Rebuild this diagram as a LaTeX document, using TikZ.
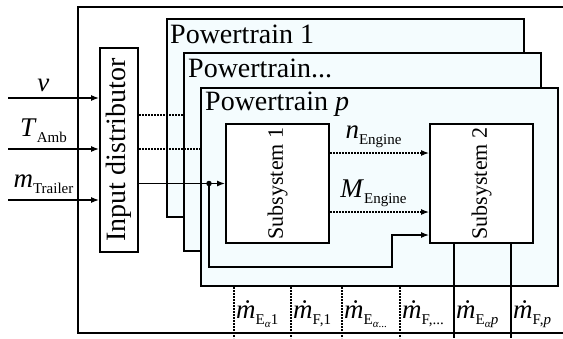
\documentclass[tikz,border=0pt]{standalone}
\usepackage{fontspec}
\setmainfont{Liberation Serif}
\usetikzlibrary{arrows.meta, positioning, calc}
\definecolor{cFillPT}{RGB}{244,252,254}
\newcommand{\lsub}[1]{\raisebox{-6pt}{\fontsize{15}{15}\selectfont #1}}
\newcommand{\lsubsub}[1]{\raisebox{-3pt}{\fontsize{11}{11}\selectfont #1}}
\tikzset{
  frame/.style={draw=black, line width=2pt},
  %% powertrain boxes
  ptbox/.style={rectangle, draw=black, fill=cFillPT, line width=2pt, anchor=north west,
                minimum width=357pt, minimum height=198pt, inner sep=0pt},
  ptlabel/.style={anchor=base west, inner sep=0pt, font=\fontsize{28}{28}\selectfont},
  %% subsystem boxes
  subbox/.style={rectangle, draw=black, fill=white, line width=2pt, anchor=north west,
                 minimum width=103pt, minimum height=119pt, inner sep=0pt},
  sublabel/.style={rotate=90, inner sep=0pt, font=\fontsize{22}{22}\selectfont},
  distbox/.style={rectangle, draw=black, fill=white, line width=2pt, anchor=north west,
                  minimum width=38pt, minimum height=204pt, inner sep=0pt},
  distlabel/.style={rotate=90, inner sep=0pt, font=\fontsize{28}{28}\selectfont},
  varlabel/.style={inner sep=0pt, font=\fontsize{27}{27}\selectfont},
  %% signals
  sigarrow/.style={-{Latex[length=8pt, width=6pt]}, line width=1.1pt},
  sigdotted/.style={sigarrow, dash pattern=on 1.6pt off 1.4pt},
  flowdotted/.style={line width=1.1pt, dash pattern=on 1.6pt off 1.4pt},
  sigline/.style={line width=1.1pt},
  tapdot/.style={circle, fill=black, inner sep=0pt, minimum size=5.5pt},
}

\begin{document}
\begin{tikzpicture}[x=1pt, y=-1pt]
\useasboundingbox (0,0) rectangle (563,338);

%% ============================================================
%%  OUTER FRAME (open to the right)
%% ============================================================
\draw[frame] (563,7) -- (78,7) -- (78,333) -- (563,333);

%% ============================================================
%%  POWERTRAIN STACK
%% ============================================================
\node[ptbox] (pt1) at (166,18) {};
\node[ptlabel] (pt1lbl) at ($(pt1.north west)+(4,25)$) {Powertrain 1};
\node[ptbox] (ptd) at (183,52) {};
\node[ptlabel] (ptdlbl) at ($(ptd.north west)+(5,25)$) {Powertrain...};
\node[ptbox] (ptp) at (200,87) {};
\node[ptlabel] (ptplbl) at ($(ptp.north west)+(5,23)$) {Powertrain \textit{p}};

%% ----- Subsystems -----
\node[subbox] (sub1) at (225,123) {};
\node[sublabel] (sub1lbl) at (sub1.center) {Subsystem 1};
\node[subbox] (sub2) at (429,123) {};
\node[sublabel] (sub2lbl) at (sub2.center) {Subsystem 2};

%% ============================================================
%%  INPUT DISTRIBUTOR
%% ============================================================
\node[distbox] (dist) at (99,47) {};
\node[distlabel] (distlbl) at (dist.center) {Input distributor};

%% ----- Inputs -----
\coordinate (inV) at (8,98);
\coordinate (inT) at (8,149);
\coordinate (inM) at (8,200);
\draw[sigarrow] (inV) -- (inV -| dist.west)
  node[varlabel, pos=0.39, above=6pt] (lblV) {\textit{v}};
\draw[sigarrow] (inT) -- (inT -| dist.west)
  node[varlabel, pos=0.39, above=6pt] (lblT) {\textit{T}\lsub{Amb}};
\draw[sigarrow] (inM) -- (inM -| dist.west)
  node[varlabel, pos=0.39, above=6pt] (lblM) {\textit{m}\lsub{Trailer}};

%% ----- Distributor outputs -----
\coordinate (lvlA) at (0,115);
\coordinate (lvlB) at (0,149);
\draw[flowdotted] (dist.east |- lvlA) -- (ptd.west |- lvlA);
\draw[flowdotted] (dist.east |- lvlB) -- (ptp.west |- lvlB);
\node[tapdot] (tap) at ($(sub1.west)+(-16,0)$) {};
\draw[sigarrow] (dist.east |- sub1.west) -- (sub1.west);

%% bypass to subsystem 2
\coordinate (fbk) at (392,267);
\draw[sigarrow] (tap.center) |- (fbk) |- ($(sub2.south west)+(0,-9)$);

%% ============================================================
%%  ENGINE SIGNALS
%% ============================================================
\draw[sigdotted] ($(sub1.north east)+(0,30)$) -- ($(sub2.north west)+(0,30)$)
  node[varlabel, midway, above=5pt, xshift=-6pt] (lblN) {\textit{n}\lsub{Engine}};
\draw[sigdotted] ($(sub1.north east)+(0,89)$) -- ($(sub2.north west)+(0,89)$)
  node[varlabel, midway, above=5pt, xshift=-6pt] (lblMe) {\textit{M}\lsub{Engine}};

%% ============================================================
%%  OUTPUTS
%% ============================================================
\foreach \xx [count=\i] in {234,291,342,400,454,511} {
  \coordinate (out\i) at (\xx,338);
}
\foreach \i in {1,...,4} {
  \draw[flowdotted] (out\i |- ptp.south) -- (out\i);
}
\foreach \i in {5,6} {
  \draw[sigline] (out\i |- sub2.south) -- (out\i);
}

\node[varlabel, anchor=base west] (mE1) at ($(out1)+(2,-20)$)
  {\textit{ṁ}\lsub{E\lsubsub{\textit{α}}1}};
\node[varlabel, anchor=base west] (mF1) at ($(out2)+(2,-20)$)
  {\textit{ṁ}\lsub{F,1}};
\node[varlabel, anchor=base west] (mEd) at ($(out3)+(2,-20)$)
  {\textit{ṁ}\lsub{E\lsubsub{\textit{α}...}}};
\node[varlabel, anchor=base west] (mFd) at ($(out4)+(2,-20)$)
  {\textit{ṁ}\lsub{F,...}};
\node[varlabel, anchor=base west] (mEp) at ($(out5)+(2,-20)$)
  {\textit{ṁ}\lsub{E\lsubsub{\textit{α}}\textit{p}}};
\node[varlabel, anchor=base west] (mFp) at ($(out6)+(2,-20)$)
  {\textit{ṁ}\lsub{F,\textit{p}}};

\end{tikzpicture}
\end{document}
